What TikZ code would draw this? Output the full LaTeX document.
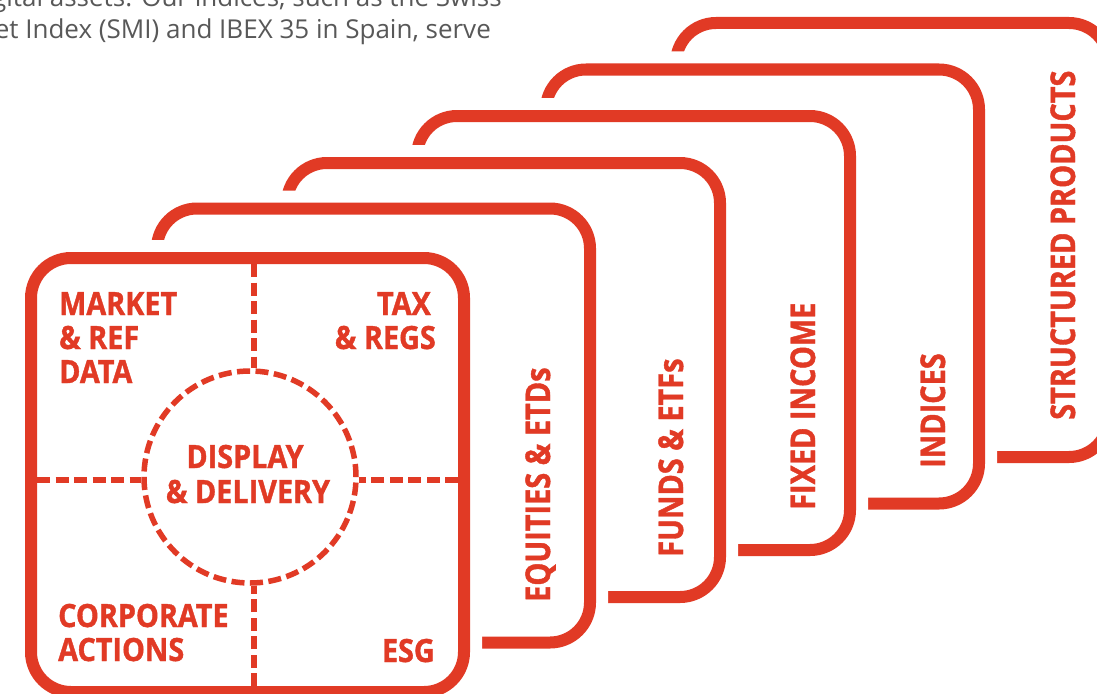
\documentclass[tikz,border=0pt]{standalone}
\usepackage{fontspec}
\setmainfont{Open Sans}
\newfontfamily\quadfont[FakeStretch=0.9,FakeBold=1.2]{Open Sans}
\newfontfamily\stackfont[FakeStretch=0.85,FakeBold=1.2]{Open Sans}
\definecolor{brand}{RGB}{225,58,37}
\definecolor{txtgray}{RGB}{88,88,88}
\begin{document}
\begin{tikzpicture}[x=1pt,y=-1pt,
  card/.style={draw=brand, fill=white, line width=12pt, rounded corners=40pt,
    minimum width=433pt, minimum height=434pt, inner sep=0pt, outer sep=0pt,
    preaction={draw=white, line width=36pt}},
  vlab/.style={font=\stackfont\bfseries\fontsize{34}{34}\selectfont, text=brand,
    rotate=90, anchor=base west, inner sep=0pt},
  lab/.style={font=\quadfont\bfseries\fontsize{32}{34}\selectfont, text=brand, inner sep=0pt},
  dashln/.style={draw=brand, line width=5.5pt, dash pattern=on 13pt off 5.5pt},
  para/.style={font=\fontsize{26}{26}\selectfont, text=txtgray, inner sep=0pt, anchor=base east}]
\useasboundingbox (0,0) rectangle (1097,693);
\fill[white] (0,0) rectangle (1097,693);
% paragraph text
\node[para] (p1) at (502,7) {igital assets. Our indices, such as the Swiss};
\node[para] (p2) at (491,39) {et Index (SMI) and IBEX 35 in Spain, serve};
% cards, back to front
\node[card] (c5) at (892.5,240) {};
\node[vlab] (l5) at (1075,420) {STRUCTURED PRODUCTS};
\node[card] (c4) at (762.5,286.5) {};
\node[vlab] (l4) at (945,468) {INDICES};
\node[card] (c3) at (633.5,333) {};
\node[vlab] (l3) at (815,510) {FIXED INCOME};
\node[card] (c2) at (503.5,380) {};
\node[vlab] (l2) at (683,557) {FUNDS \& ETFs};
\node[card] (c1) at (373.5,425.5) {};
\node[vlab] (l1) at (550,602) {EQUITIES \& ETDs};
\node[card] (c0) at (247.5,475) {};
% centre circle
\node[circle, dashln, minimum size=212pt, inner sep=0pt] (disp) at (250,477) {};
\coordinate (vt) at (254,264);
\coordinate (vb) at (254,686);
\coordinate (hl) at (37,480);
\coordinate (hr) at (458,480);
\draw[dashln] (vt) -- (vt |- disp.north);
\draw[dashln] (vb) -- (vb |- disp.south);
\draw[dashln] (hl) -- (hl -| disp.west);
\draw[dashln] (hr) -- (hr -| disp.east);
% quadrant labels
\node[lab, anchor=base west] (mk1) at (59,315) {MARKET};
\node[lab, anchor=base west] (mk2) at (59,349) {\& REF};
\node[lab, anchor=base west] (mk3) at (59,383) {DATA};
\node[lab, anchor=base east] (tx1) at (431,315) {TAX};
\node[lab, anchor=base east] (tx2) at (436,349) {\& REGS};
\node[lab, anchor=base] (dd1) at (245,468) {DISPLAY};
\node[lab, anchor=base] (dd2) at (248,503) {\& DELIVERY};
\node[lab, anchor=base west] (ca1) at (58,627) {CORPORATE};
\node[lab, anchor=base west] (ca2) at (58,661) {ACTIONS};
\node[lab, anchor=base east] (esg) at (435,662) {ESG};
\end{tikzpicture}
\end{document}
